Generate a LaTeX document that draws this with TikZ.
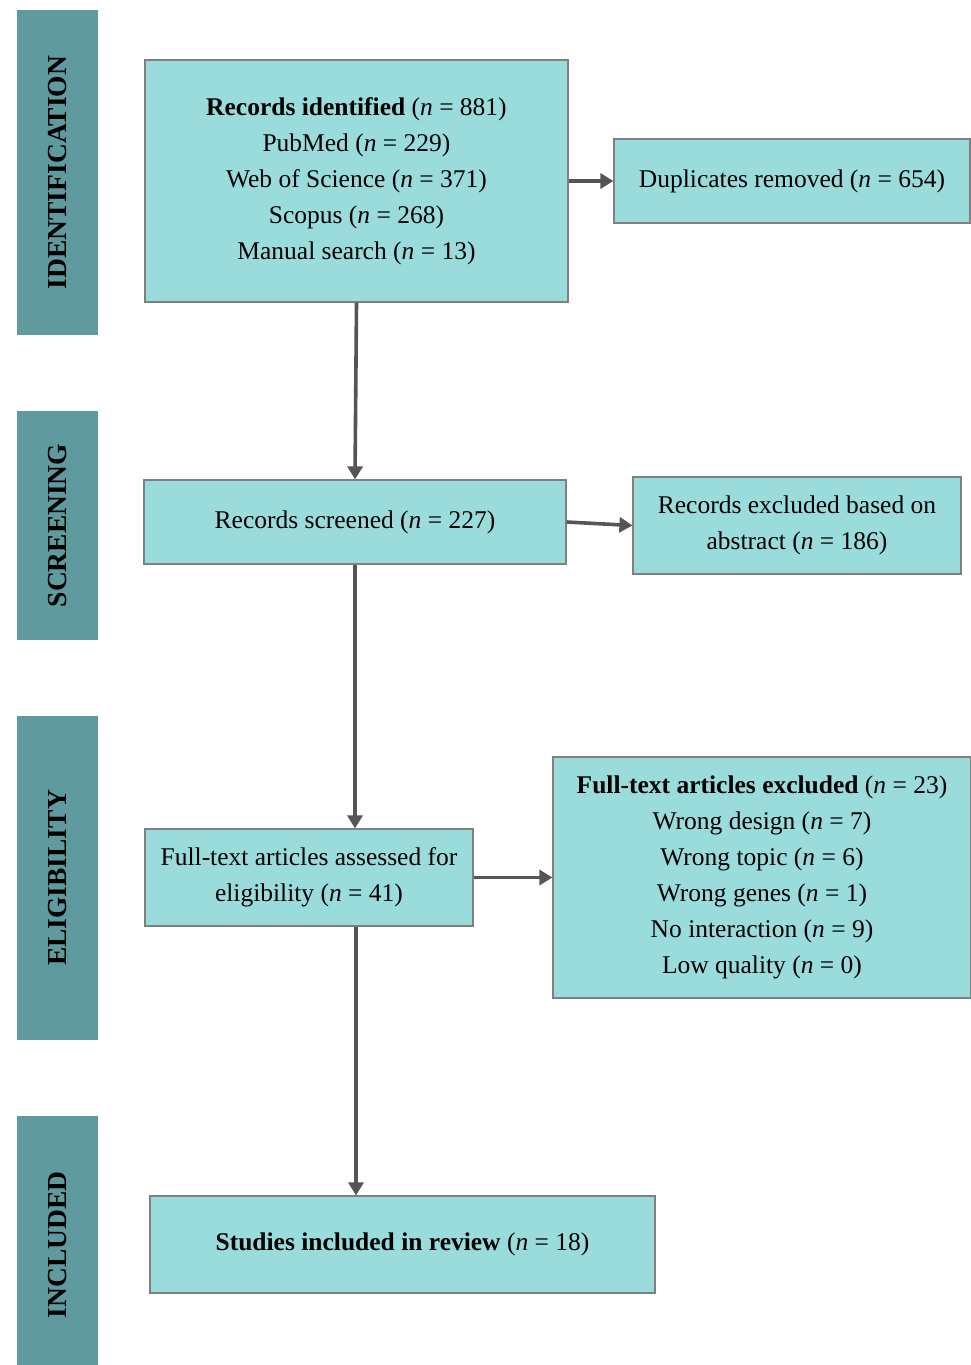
\documentclass[tikz,border=0pt]{standalone}
\usepackage{fontspec}
\setmainfont{Liberation Serif}
\usetikzlibrary{arrows.meta}
\definecolor{boxfill}{HTML}{9ADCDC}
\definecolor{barfill}{HTML}{5E9A9E}
\definecolor{boxline}{HTML}{808080}
\definecolor{arrowc}{HTML}{555555}
\tikzset{
  x=1pt, y=-1pt,
  flowbox/.style={draw=boxline, line width=1.2pt, fill=boxfill, align=center, inner sep=0pt,
    font=\fontsize{25.5}{36}\selectfont},
  stagebar/.style={fill=barfill, inner sep=0pt},
  stagelabel/.style={rotate=90, font=\fontsize{27.5}{30}\selectfont\bfseries},
  flowarrow/.style={draw=arrowc, line width=3.6pt, -{Triangle[length=13pt,width=15pt]}}
}
\newcommand{\nn}{\textit{n}}
\begin{document}
\begin{tikzpicture}
\useasboundingbox (0,0) rectangle (971,1365);
% stage bars
\node[stagebar, minimum width=81pt, minimum height=325pt] (b1) at (57.5,172.5) {};
\node[stagelabel] (l1) at (b1.center) {IDENTIFICATION};
\node[stagebar, minimum width=81pt, minimum height=229pt] (b2) at (57.5,525.5) {};
\node[stagelabel] (l2) at (b2.center) {SCREENING};
\node[stagebar, minimum width=81pt, minimum height=324pt] (b3) at (57.5,878) {};
\node[stagelabel] (l3) at (b3.center) {ELIGIBILITY};
\node[stagebar, minimum width=81pt, minimum height=249pt] (b4) at (57.5,1240.5) {};
\node[stagelabel] (l4) at (57.5,1245) {INCLUDED};
% boxes
\node[flowbox, minimum width=423pt, minimum height=242pt] (id) at (356.5,181) {\textbf{Records identified} (\nn{} = 881)\\PubMed (\nn{} = 229)\\Web of Science (\nn{} = 371)\\Scopus (\nn{} = 268)\\Manual search (\nn{} = 13)};
\node[flowbox, minimum width=356pt, minimum height=84pt] (dup) at (792,181) {Duplicates removed (\nn{} = 654)};
\node[flowbox, minimum width=422pt, minimum height=84pt] (scr) at (355,522) {Records screened (\nn{} = 227)};
\node[flowbox, minimum width=328pt, minimum height=97pt] (exa) at (797,525.5) {Records excluded based on\\abstract (\nn{} = 186)};
\node[flowbox, minimum width=328pt, minimum height=97pt] (ft) at (309,877.5) {Full-text articles assessed for\\eligibility (\nn{} = 41)};
\node[flowbox, minimum width=418pt, minimum height=241pt] (exf) at (762,877.5) {\textbf{Full-text articles excluded} (\nn{} = 23)\\Wrong design (\nn{} = 7)\\Wrong topic (\nn{} = 6)\\Wrong genes (\nn{} = 1)\\No interaction (\nn{} = 9)\\Low quality (\nn{} = 0)};
\node[flowbox, minimum width=505pt, minimum height=97pt] (inc) at (402.5,1244.5) {\textbf{Studies included in review} (\nn{} = 18)};
% arrows
\draw[flowarrow] (id.east) -- (dup.west);
\draw[flowarrow] (id.south) -- (scr.north);
\draw[flowarrow] (scr.east) -- (exa.west);
\draw[flowarrow] (scr.south) -- (scr.south |- ft.north);
\draw[flowarrow] (ft.east) -- (exf.west);
\draw[flowarrow] ([xshift=1pt]scr.south |- ft.south) -- ([xshift=1pt]scr.south |- inc.north);
\end{tikzpicture}
\end{document}
